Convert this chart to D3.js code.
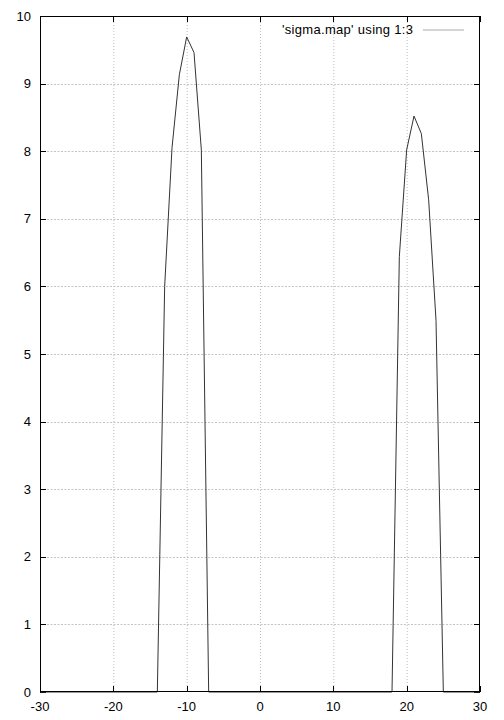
<!DOCTYPE html>
<html>
<head>
<meta charset="utf-8">
<script src="https://cdn.jsdelivr.net/npm/d3@7"></script>
<style>
  body { margin: 0; background: #fff; }
  text { font-family: "Liberation Sans", Arial, sans-serif; font-size: 13px; fill: #000; }
</style>
</head>
<body>
<svg id="chart" width="504" height="720"></svg>
<script>
// data
const xValues = [-30, -14, -13, -12, -11, -10, -9, -8, -7, 18, 19, 20, 21, 22, 23, 24, 25, 30]
const yValues = [0, 0, 6.0, 8.05, 9.13, 9.69, 9.46, 8.02, 0, 0, 6.44, 8.02, 8.52, 8.26, 7.28, 5.5, 0, 0]
const xTicks = [-30, -20, -10, 0, 10, 20, 30]
const yTicks = [0, 1, 2, 3, 4, 5, 6, 7, 8, 9, 10]
const legendLabel = "'sigma.map' using 1:3"

// plot box, gnuplot style
const box = { left: 40, right: 480, top: 16, bottom: 692 }
const tickLen = 6

const xScale = d3.scaleLinear()
  .domain([-30, 30])
  .range([box.left, box.right])

const yScale = d3.scaleLinear()
  .domain([0, 10])
  .range([box.bottom, box.top])

const svg = d3.select('#chart')

// grid
svg.append('g')
  .selectAll('line')
  .data(xTicks.slice(1, -1))
  .join('line')
  .attr('x1', d => xScale(d) + 0.5)
  .attr('x2', d => xScale(d) + 0.5)
  .attr('y1', box.top)
  .attr('y2', box.bottom)
  .attr('stroke', '#bdbdbd')
  .attr('stroke-width', 1)
  .attr('stroke-dasharray', '1,2')

svg.append('g')
  .selectAll('line')
  .data(yTicks.slice(1, -1))
  .join('line')
  .attr('x1', box.left)
  .attr('x2', box.right)
  .attr('y1', d => Math.round(yScale(d)) + 0.5)
  .attr('y2', d => Math.round(yScale(d)) + 0.5)
  .attr('stroke', '#c4c4c4')
  .attr('stroke-width', 1)
  .attr('stroke-dasharray', '2,1.5')

// tick marks on all four sides, pointing inward
const ticks = svg.append('g').attr('stroke', '#000').attr('stroke-width', 1)
xTicks.forEach(d => {
  const x = Math.round(xScale(d)) + 0.5
  ticks.append('line').attr('x1', x).attr('x2', x).attr('y1', box.bottom).attr('y2', box.bottom - tickLen)
  ticks.append('line').attr('x1', x).attr('x2', x).attr('y1', box.top).attr('y2', box.top + tickLen)
})
yTicks.forEach(d => {
  const y = Math.round(yScale(d)) + 0.5
  ticks.append('line').attr('x1', box.left).attr('x2', box.left + tickLen).attr('y1', y).attr('y2', y)
  ticks.append('line').attr('x1', box.right).attr('x2', box.right - tickLen).attr('y1', y).attr('y2', y)
})

// tick labels
svg.append('g')
  .selectAll('text')
  .data(xTicks)
  .join('text')
  .attr('x', d => xScale(d))
  .attr('y', 711)
  .attr('text-anchor', 'middle')
  .text(d => d)

svg.append('g')
  .selectAll('text')
  .data(yTicks)
  .join('text')
  .attr('x', 31)
  .attr('y', d => yScale(d) + 4.5)
  .attr('text-anchor', 'end')
  .text(d => d)

// data line
const line = d3.line()
  .x(d => xScale(d[0]))
  .y(d => yScale(d[1]))

svg.append('path')
  .datum(xValues.map((x, i) => [x, yValues[i]]))
  .attr('d', line)
  .attr('fill', 'none')
  .attr('stroke', '#333')
  .attr('stroke-width', 1)

// border
svg.append('rect')
  .attr('x', box.left + 0.5)
  .attr('y', box.top + 0.5)
  .attr('width', box.right - box.left - 1)
  .attr('height', box.bottom - box.top - 1)
  .attr('fill', 'none')
  .attr('stroke', '#000')
  .attr('stroke-width', 1)

// legend
svg.append('text')
  .attr('x', 282)
  .attr('y', 34)
  .attr('textLength', 131)
  .attr('lengthAdjust', 'spacing')
  .text(legendLabel)

svg.append('line')
  .attr('x1', 423)
  .attr('x2', 464)
  .attr('y1', 30)
  .attr('y2', 30)
  .attr('stroke', '#aaa')
  .attr('stroke-width', 1.2)
</script>
</body>
</html>
